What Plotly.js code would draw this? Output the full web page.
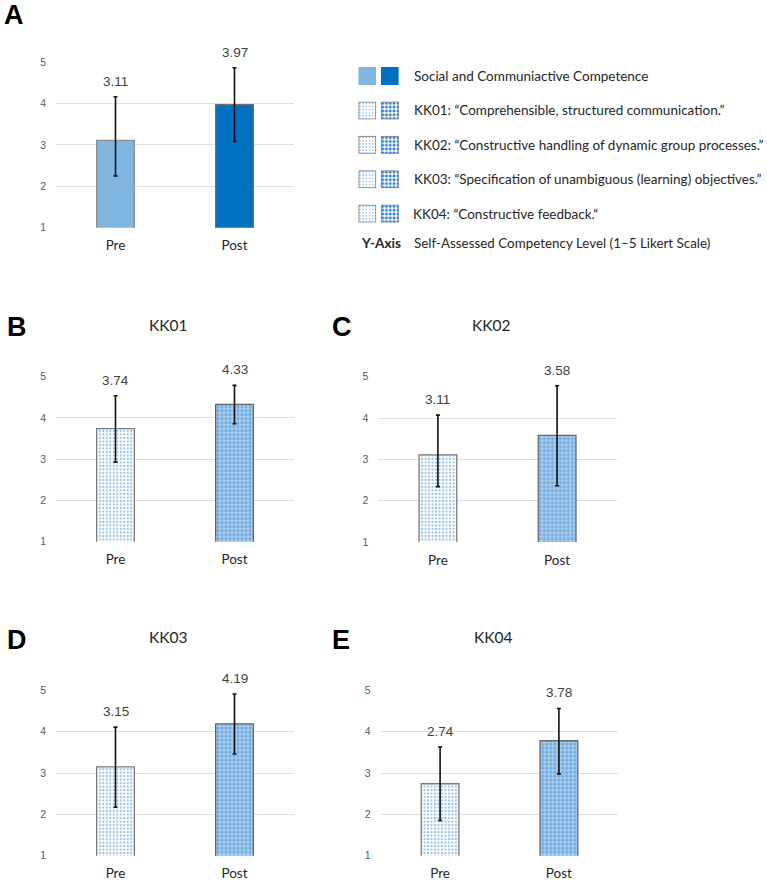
<!DOCTYPE html>
<html>
<head>
<meta charset="utf-8">
<script src="https://cdn.plot.ly/plotly-3.0.1.min.js"></script>
<style>
  html, body { margin: 0; padding: 0; background: #ffffff; }
  #chart { width: 767px; height: 881px; }
</style>
</head>
<body>
<div id="chart"></div>
<script>
// Pre / post self-assessment of social and communicative competence
const categories = ['Pre', 'Post'];
const yTicks = [1, 2, 3, 4, 5];

// Overall competence (panel A): means and whisker ends
const meansOverall = [3.11, 3.97];
const upperOverall = [4.16, 4.86];
const lowerOverall = [2.25, 3.08];

// KK01 – KK04 items (panels B–E)
const meansKK01 = [3.74, 4.33];
const upperKK01 = [4.54, 4.79];
const lowerKK01 = [2.93, 3.86];

const meansKK02 = [3.11, 3.58];
const upperKK02 = [4.07, 4.78];
const lowerKK02 = [2.34, 2.36];

const meansKK03 = [3.15, 4.19];
const upperKK03 = [4.11, 4.91];
const lowerKK03 = [2.17, 3.46];

const meansKK04 = [2.74, 3.78];
const upperKK04 = [3.63, 4.56];
const lowerKK04 = [1.85, 2.98];

const panelTitles = ['KK01', 'KK02', 'KK03', 'KK04'];
const panelLetters = ['A', 'B', 'C', 'D', 'E'];

const legendLines = [
  'Social and Communiactive Competence',
  'KK01: \u201cComprehensible, structured communication.\u201d',
  'KK02: \u201cConstructive handling of dynamic group processes.\u201d',
  'KK03: \u201cSpecification of unambiguous (learning) objectives.\u201d',
  'KK04: \u201cConstructive feedback.\u201c'
];
const axisKey = 'Y-Axis';
const axisText = 'Self-Assessed Competency Level (1\u20135 Likert Scale)';

// ---- page geometry helpers (pixels -> paper fractions) ----
const W = 767, H = 881;
const fx = p => p / W;
const fy = p => 1 - p / H;

const SANS = 'Liberation Sans, Arial, sans-serif';
const CAL = 'Lato, Open Sans, sans-serif';

// bar fills: [pre, post] for the solid overall panel and the dotted item panels
const solidFill = [
  { color: '#7fb5de', line: { color: '#8c8c8c', width: 1.3 } },
  { color: '#0070c0', line: { color: '#6e6e6e', width: 1.3 } }
];
const dotFill = [
  { color: '#ffffff', line: { color: '#7a7a7a', width: 1.3 },
    pattern: { shape: '.', fillmode: 'replace', bgcolor: '#ffffff', fgcolor: '#92c0e8', size: 3.5, solidity: 0.3 } },
  { color: '#93c1e8', line: { color: '#666666', width: 1.3 },
    pattern: { shape: '.', fillmode: 'replace', bgcolor: '#a9cdee', fgcolor: '#6aa6dc', size: 4, solidity: 0.4 } }
];

// plot-area rectangles for the five panels, in pixels [left, right, top, bottom]
const panels = [
  { box: [56, 294, 62, 227.7],         means: meansOverall, up: upperOverall, lo: lowerOverall, fill: solidFill },
  { box: [56, 294, 376.7, 541.7],      means: meansKK01, up: upperKK01, lo: lowerKK01, fill: dotFill },
  { box: [378.3, 616.7, 376.7, 542],   means: meansKK02, up: upperKK02, lo: lowerKK02, fill: dotFill },
  { box: [56, 294, 690.3, 855.7],      means: meansKK03, up: upperKK03, lo: lowerKK03, fill: dotFill },
  { box: [380.7, 618.3, 690.3, 855.7], means: meansKK04, up: upperKK04, lo: lowerKK04, fill: dotFill }
];

const traces = [];
const layout = {
  width: W, height: H,
  margin: { l: 0, r: 0, t: 0, b: 0 },
  paper_bgcolor: '#ffffff',
  plot_bgcolor: '#ffffff',
  showlegend: false,
  barmode: 'overlay',
  bargap: 0.683,
  annotations: [],
  images: []
};

panels.forEach((p, i) => {
  const n = i === 0 ? '' : String(i + 1);
  const xa = 'x' + n, ya = 'y' + n;
  const [l, r, t, b] = p.box;

  // one trace per period so each bar keeps its own fill
  categories.forEach((c, k) => {
    traces.push({
      type: 'bar',
      x: [c],
      y: [p.means[k]],
      xaxis: xa, yaxis: ya,
      marker: p.fill[k],
      error_y: {
        type: 'data',
        symmetric: false,
        array: [p.up[k] - p.means[k]],
        arrayminus: [p.means[k] - p.lo[k]],
        color: '#111111',
        thickness: 1.6,
        width: 2
      },
      hoverinfo: 'skip'
    });

    // value label above the upper whisker
    layout.annotations.push({
      xref: xa, yref: ya, x: c, y: p.up[k],
      yanchor: 'bottom', yshift: 6,
      text: p.means[k].toFixed(2),
      showarrow: false,
      font: { family: SANS, size: 13.5, color: '#404040' }
    });
  });

  layout['xaxis' + n] = {
    domain: [fx(l), fx(r)],
    anchor: ya,
    type: 'category',
    categoryorder: 'array',
    categoryarray: categories,
    showgrid: false,
    zeroline: false,
    showline: false,
    ticks: '',
    ticklabelstandoff: 8,
    tickfont: { family: CAL, size: 13.5, color: '#262626' },
    fixedrange: true
  };
  layout['yaxis' + n] = {
    domain: [fy(b), fy(t)],
    anchor: xa,
    range: [1, 5],
    tickvals: yTicks,
    ticktext: yTicks.map(String),
    showgrid: true,
    gridcolor: '#dedede',
    gridwidth: 1,
    zeroline: false,
    showline: false,
    ticks: '',
    ticklabelstandoff: 9,
    tickfont: { family: SANS, size: 10.5, color: '#595959' },
    fixedrange: true
  };
});

// panel letters
const letterPos = [[2, 15], [5, 327], [330, 327], [5, 640], [330, 640]];
panelLetters.forEach((t, i) => {
  layout.annotations.push({
    xref: 'paper', yref: 'paper', x: fx(letterPos[i][0]), y: fy(letterPos[i][1]),
    xanchor: 'left', yanchor: 'middle', showarrow: false, text: '<b>' + t + '</b>',
    font: { family: SANS, size: 27, color: '#000000' }
  });
});

// panel titles
const titlePos = [[168, 325], [491.7, 325], [168, 637], [493, 637]];
panelTitles.forEach((t, i) => {
  layout.annotations.push({
    xref: 'paper', yref: 'paper', x: fx(titlePos[i][0]), y: fy(titlePos[i][1]),
    xanchor: 'center', yanchor: 'middle', showarrow: false, text: t,
    font: { family: CAL, size: 15.5, color: '#262626' }
  });
});

// legend key: swatches + text
const svgUri = s => 'data:image/svg+xml;charset=utf-8,' + encodeURIComponent(s);
const solidSwatch = c => svgUri(
  '<svg xmlns="http://www.w3.org/2000/svg" width="18" height="18"><rect width="18" height="18" fill="' + c + '"/></svg>');
const dotSwatch = (r, step, col) => svgUri(
  '<svg xmlns="http://www.w3.org/2000/svg" width="18" height="18">' +
  '<defs><pattern id="p" width="' + step + '" height="' + step + '" patternUnits="userSpaceOnUse">' +
  '<circle cx="' + step / 2 + '" cy="' + step / 2 + '" r="' + r + '" fill="' + col + '"/></pattern></defs>' +
  '<rect width="18" height="18" fill="#ffffff"/><rect width="18" height="18" fill="url(#p)"/>' +
  '<rect x="0.5" y="0.5" width="17" height="17" fill="none" stroke="#7f7f7f" stroke-width="1"/></svg>');

const rowY = [76, 110.5, 144.8, 179.3, 213.6];
rowY.forEach((yc, i) => {
  const srcs = i === 0
    ? [solidSwatch('#7fb5de'), solidSwatch('#0070c0')]
    : [dotSwatch(0.75, 3.2, '#7fb0df'), dotSwatch(1.4, 3.8, '#1f74cc')];
  [358.3, 380.8].forEach((xl, k) => {
    layout.images.push({
      source: srcs[k], xref: 'paper', yref: 'paper',
      x: fx(xl), y: fy(yc - 9), sizex: 18 / W, sizey: 18 / H,
      xanchor: 'left', yanchor: 'top', sizing: 'stretch', layer: 'above'
    });
  });
  layout.annotations.push({
    xref: 'paper', yref: 'paper', x: fx(411.5), y: fy(yc),
    xanchor: 'left', yanchor: 'middle', showarrow: false, text: legendLines[i],
    font: { family: CAL, size: 13.5, color: '#262626' }
  });
});
layout.annotations.push({
  xref: 'paper', yref: 'paper', x: fx(358.5), y: fy(243.3),
  xanchor: 'left', yanchor: 'middle', showarrow: false, text: '<b>' + axisKey + '</b>',
  font: { family: CAL, size: 13.6, color: '#262626' }
});
layout.annotations.push({
  xref: 'paper', yref: 'paper', x: fx(411.5), y: fy(243.3),
  xanchor: 'left', yanchor: 'middle', showarrow: false, text: axisText,
  font: { family: CAL, size: 13.4, color: '#262626' }
});

Plotly.newPlot('chart', traces, layout, { staticPlot: true, displayModeBar: false });
</script>
</body>
</html>
